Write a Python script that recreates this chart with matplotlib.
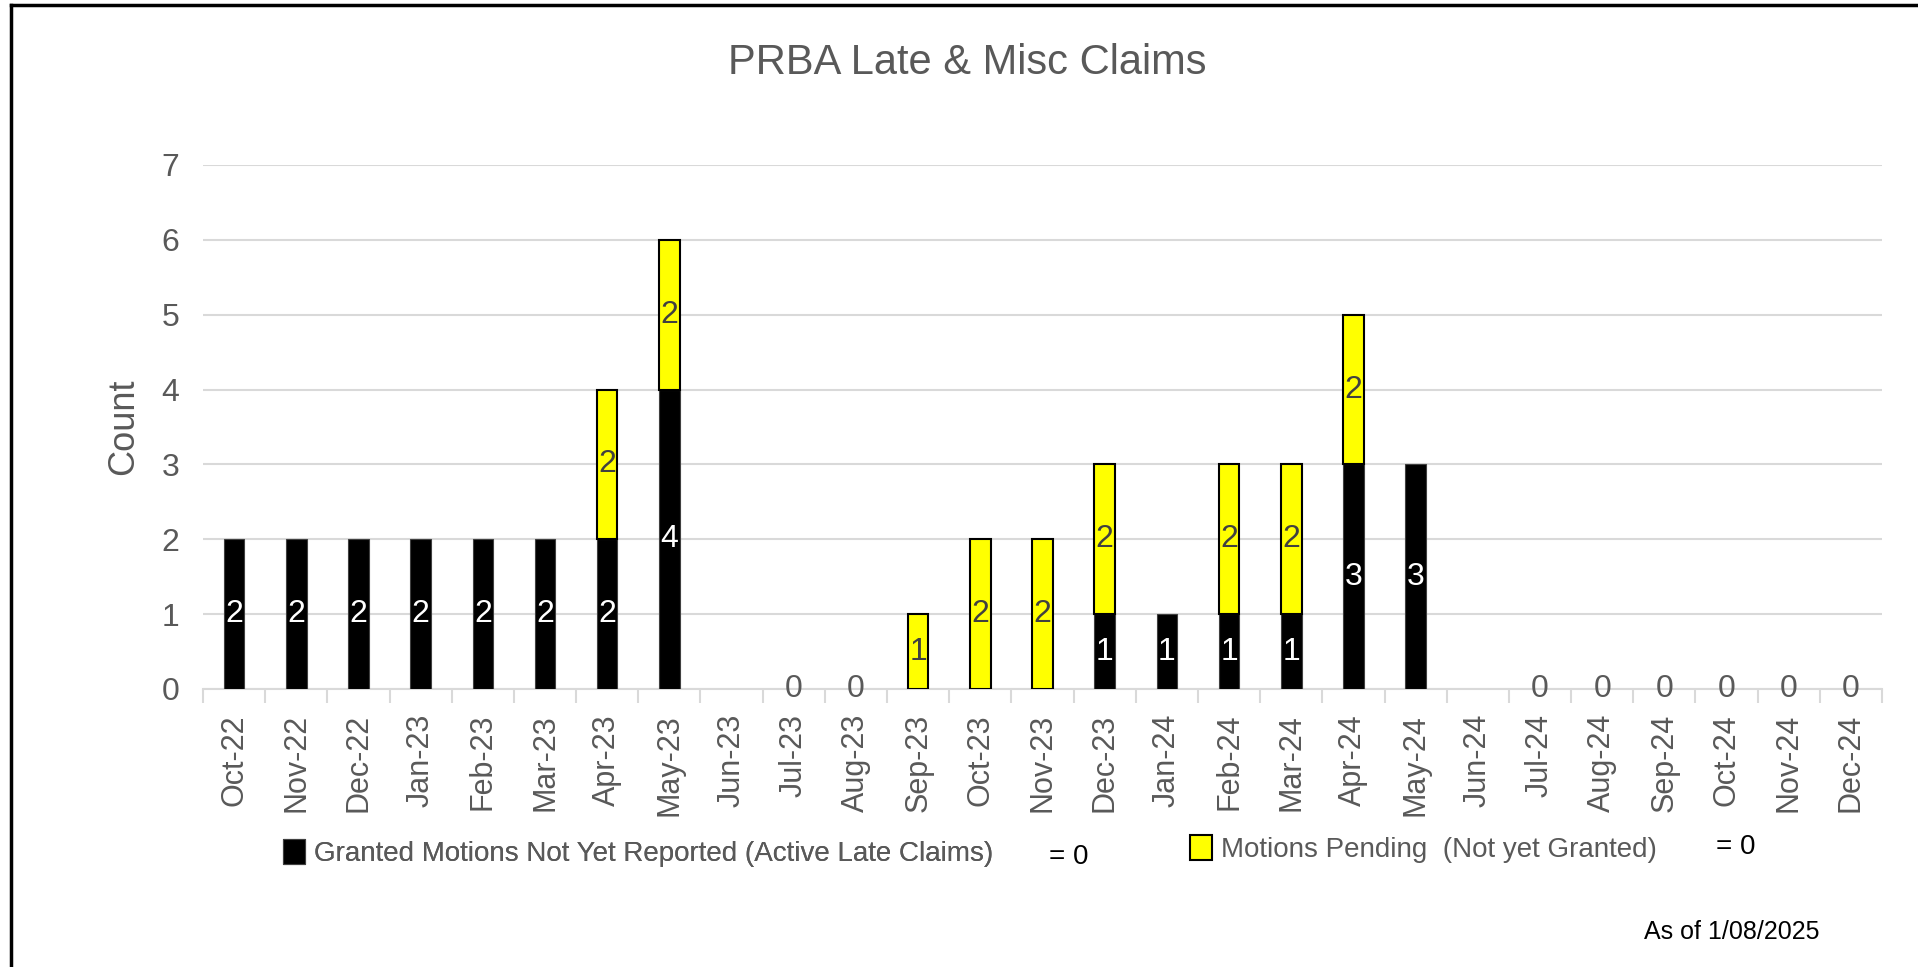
import matplotlib
matplotlib.use("Agg")
import matplotlib.pyplot as plt
from matplotlib.lines import Line2D
from matplotlib.patches import Patch
import numpy as np

# ---- data ----
months = ["Oct-22", "Nov-22", "Dec-22", "Jan-23", "Feb-23", "Mar-23", "Apr-23", "May-23",
          "Jun-23", "Jul-23", "Aug-23", "Sep-23", "Oct-23", "Nov-23", "Dec-23", "Jan-24",
          "Feb-24", "Mar-24", "Apr-24", "May-24", "Jun-24", "Jul-24", "Aug-24", "Sep-24",
          "Oct-24", "Nov-24", "Dec-24"]
granted = [2, 2, 2, 2, 2, 2, 2, 4, None, 0, 0, None, None, None, 1, 1, 1, 1, 3, 3,
           None, 0, 0, 0, 0, 0, 0]
pending = [None, None, None, None, None, None, 2, 2, None, None, None, 1, 2, 2, 2, None,
           2, 2, 2, None, None, None, None, None, None, None, None]
series_names = ["Granted Motions Not Yet Reported (Active Late Claims)",
                "Motions Pending  (Not yet Granted)"]
title = "PRBA Late & Misc Claims"
note = "As of 1/08/2025"

REG = ["Liberation Sans", "DejaVu Sans"]
GRAY = "#595959"
BLACK_FILL, BLACK_EDGE = "black", "#404040"
YELLOW_FILL, YELLOW_EDGE = "#FFFF00", "black"

W, H = 1918, 967
fig = plt.figure(figsize=(W / 100, H / 100), dpi=100)
fig.patch.set_facecolor("white")

ax_l, ax_r, ax_t, ax_b = 203, 1882, 165, 689
ax = fig.add_axes([ax_l / W, 1 - ax_b / H, (ax_r - ax_l) / W, (ax_b - ax_t) / H])

x = np.arange(len(months))
g = np.array([v if v is not None else 0 for v in granted], dtype=float)
p = np.array([v if v is not None else 0 for v in pending], dtype=float)
bw = 0.33

bars_g = ax.bar(x, g, width=bw, color=BLACK_FILL, edgecolor=BLACK_EDGE, linewidth=0.8,
                zorder=3)
bars_p = ax.bar(x, p, width=bw, bottom=g, color=YELLOW_FILL, edgecolor=YELLOW_EDGE,
                linewidth=1.5, zorder=3)
for patch in list(bars_g.patches) + list(bars_p.patches):
    if patch.get_height() == 0:
        patch.set_visible(False)

# data labels
for i in range(len(months)):
    if granted[i] is not None:
        if granted[i] == 0:
            ax.text(x[i], 0, "0", ha="center", va="center", fontsize=23,
                    family=REG, color=GRAY, zorder=5)
        else:
            ax.text(x[i], granted[i] / 2, str(granted[i]), ha="center", va="center",
                    fontsize=23, family=REG, color="white", zorder=5)
    if pending[i] is not None and pending[i] != 0:
        ax.text(x[i], g[i] + pending[i] / 2, str(pending[i]), ha="center", va="center",
                fontsize=23, family=REG, color="#404040", zorder=5)

ax.set_xlim(-0.5, len(months) - 0.5)
ax.set_ylim(0, 7)
ax.set_yticks(range(0, 8))
ax.yaxis.grid(True, color="#d9d9d9", linewidth=1.5, zorder=0)
ax.set_axisbelow(True)
for s in ["top", "right", "left"]:
    ax.spines[s].set_visible(False)
ax.spines["bottom"].set_color("#d9d9d9")
ax.spines["bottom"].set_linewidth(1.5)

ax.set_xticks(x)
ax.set_xticklabels(months, rotation=90, fontsize=22, color=GRAY, family=REG)
ax.set_xticks(np.arange(-0.5, len(months), 1), minor=True)
ax.tick_params(axis="x", which="major", length=0, pad=18)
ax.tick_params(axis="x", which="minor", length=10, color="#d9d9d9", width=1.5)
ax.tick_params(axis="y", length=0, pad=17, labelsize=23, labelcolor=GRAY)
for lab in ax.get_yticklabels():
    lab.set_family(REG)

ax.set_ylabel("Count", fontsize=26, color=GRAY, family=REG)
ax.yaxis.set_label_coords(-0.037, 0.5)

# title
fig.text(967 / W, 1 - 63 / H, title, ha="center", va="center", fontsize=30,
         color=GRAY, family=REG)

# legend (two separate entries, as in the reference)
h_g = Patch(facecolor=BLACK_FILL, edgecolor=BLACK_EDGE, linewidth=0.8)
h_p = Patch(facecolor=YELLOW_FILL, edgecolor=YELLOW_EDGE, linewidth=1.5)
common = dict(loc="center left", frameon=False, borderpad=0, borderaxespad=0,
              handlelength=0.8, handleheight=1.0, handletextpad=0.3,
              prop={"family": REG, "size": 20})
leg1 = fig.legend(handles=[h_g], labels=[series_names[0]],
                  bbox_to_anchor=(283 / W, 1 - 853 / H), **common)
for t in leg1.get_texts():
    t.set_color(GRAY)
leg2 = fig.legend(handles=[h_p], labels=[series_names[1]],
                  bbox_to_anchor=(1190 / W, 1 - 849 / H), **common)
for t in leg2.get_texts():
    t.set_color(GRAY)
fig.add_artist(leg1)

fig.text(1049 / W, 1 - 857 / H, "= 0", ha="left", va="center", fontsize=20,
         color="black", family=REG)
fig.text(1716 / W, 1 - 847 / H, "= 0", ha="left", va="center", fontsize=20,
         color="black", family=REG)

fig.text(1820 / W, 1 - 932 / H, note, ha="right", va="center", fontsize=18,
         color="black", family=REG)

# outer frame (left and top edges visible)
fig.add_artist(Line2D([11 / W, 1.0], [1 - 5 / H, 1 - 5 / H], transform=fig.transFigure,
                      color="black", linewidth=2.5))
fig.add_artist(Line2D([11 / W, 11 / W], [0, 1 - 5 / H], transform=fig.transFigure,
                      color="black", linewidth=2.5))

fig.savefig("out.png", dpi=100, facecolor="white")
